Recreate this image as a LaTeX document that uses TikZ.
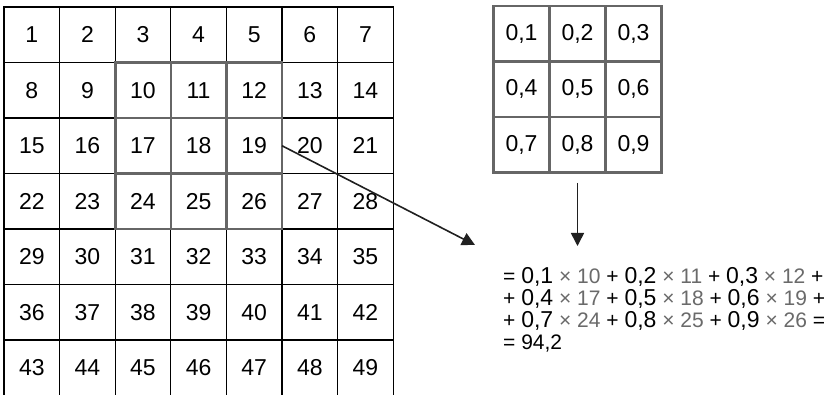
\documentclass[tikz,border=0pt]{standalone}
\usepackage{fontspec}
\setmainfont{Liberation Sans}
\usetikzlibrary{arrows.meta}
\definecolor{kgray}{HTML}{666666}
\definecolor{ngray}{HTML}{6A6A6A}
\definecolor{arrowc}{HTML}{202020}
\newcommand\mycoef[1]{{\fontsize{23}{22}\selectfont #1}}
\newcommand\mygr[1]{\textcolor{ngray}{#1}}
\tikzset{
  cell/.style={draw=black, line width=1.2pt, minimum width=55.6pt, minimum height=55.5pt,
    inner sep=0pt, outer sep=0pt, font=\fontsize{23}{24}\selectfont},
  kcell/.style={draw=kgray, line width=2.6pt, minimum width=55.6pt, minimum height=55.5pt,
    inner sep=0pt, outer sep=0pt},
  wcell/.style={draw=kgray, line width=2.6pt, minimum width=56pt, minimum height=55.6pt,
    inner sep=0pt, outer sep=0pt, font=\fontsize{23}{24}\selectfont},
  conn/.style={draw=arrowc, line width=1.6pt, -{Triangle[length=13pt,width=13pt]}},
  eq/.style={anchor=base west, inner sep=0pt, font=\fontsize{21}{22}\selectfont}
}
\begin{document}
\begin{tikzpicture}[x=1pt,y=-1pt]
\useasboundingbox[fill=white] (0,0) rectangle (833,395);
% input grid 7x7
\foreach \r in {0,...,6}{
  \foreach \c in {0,...,6}{
    \pgfmathtruncatemacro{\n}{\r*7+\c+1}
    \node[cell] (c\n) at ({4+55.6*\c+27.8},{7+55.5*\r+27.75}) {\n};
  }
}
% highlighted 3x3 region
\foreach \n in {10,11,12,17,18,19,24,25,26}{
  \node[kcell] at (c\n) {};
}
% kernel 3x3
\foreach \r in {0,1,2}{
  \foreach \c in {0,1,2}{
    \pgfmathtruncatemacro{\k}{\r*3+\c+1}
    \node[wcell] (k\k) at ({493.5+56*\c+28},{6+55.6*\r+27.8}) {0,\k};
  }
}
% connectors
\coordinate (a1e) at (475,245);
\draw[conn] (c19.east) -- (a1e);
\coordinate (a2s) at ([yshift=-10pt]k8.south);
\coordinate (a2e) at (577.5,246);
\draw[conn] (a2s) -- (a2e);
% equation
\node[eq] (l1) at (503,284) {= \mycoef{0,1} \mygr{× 10} + \mycoef{0,2} \mygr{× 11} + \mycoef{0,3} \mygr{× 12} +};
\node[eq] (l2) at (503,306) {+ \mycoef{0,4} \mygr{× 17} + \mycoef{0,5} \mygr{× 18} + \mycoef{0,6} \mygr{× 19} +};
\node[eq] (l3) at (503,328) {+ \mycoef{0,7} \mygr{× 24} + \mycoef{0,8} \mygr{× 25} + \mycoef{0,9} \mygr{× 26} =};
\node[eq] (l4) at (503,350) {= 94,2};
\end{tikzpicture}
\end{document}
